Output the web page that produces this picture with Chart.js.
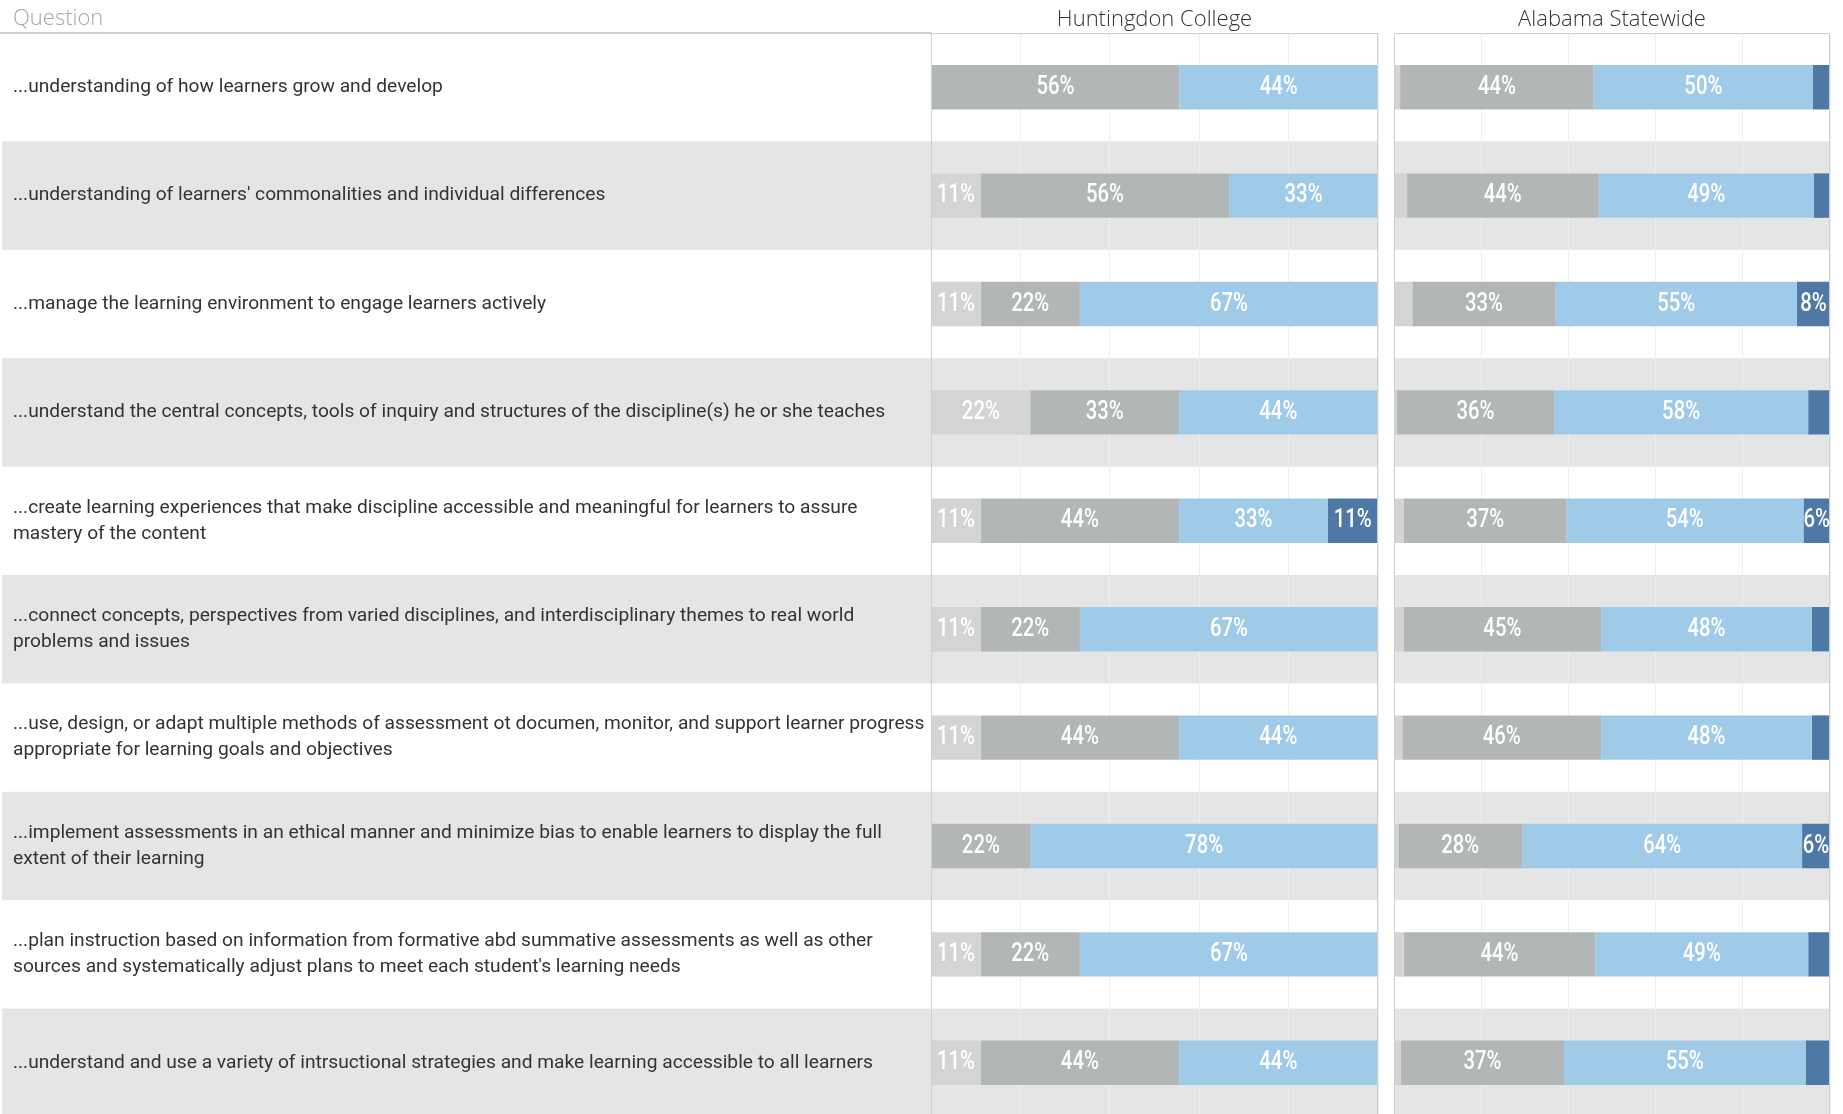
<!DOCTYPE html>
<html>
<head>
<meta charset="utf-8">
<script src="https://cdn.jsdelivr.net/npm/chart.js@4.4.1/dist/chart.umd.min.js"></script>
<style>
  html, body { margin: 0; padding: 0; background: #fff; overflow: hidden; }
  #wrap { position: relative; width: 1843px; height: 1114px; overflow: hidden; }
  #hcBox { position: absolute; left: 0; top: 0; width: 1379px; height: 1117px; }
  #alBox { position: absolute; left: 1393px; top: 0; width: 438px; height: 1117px; }
</style>
</head>
<body>
<div id="wrap">
  <div id="hcBox"><canvas id="hcChart" width="1379" height="1117"></canvas></div>
  <div id="alBox"><canvas id="alChart" width="438" height="1117"></canvas></div>
</div>
<script>
// questions (split in lines like the original)
const questions = [
  ["...understanding of how learners grow and develop"],
  ["...understanding of learners' commonalities and individual differences"],
  ["...manage the learning environment to engage learners actively"],
  ["...understand the central concepts, tools of inquiry and structures of the discipline(s) he or she teaches"],
  ["...create learning experiences that make discipline accessible and meaningful for learners to assure", "mastery of the content"],
  ["...connect concepts, perspectives from varied disciplines, and interdisciplinary themes to real world", "problems and issues"],
  ["...use, design, or adapt multiple methods of assessment ot documen, monitor, and support learner progress", "appropriate for learning goals and objectives"],
  ["...implement assessments in an ethical manner and minimize bias to enable learners to display the full", "extent of their learning"],
  ["...plan instruction based on information from formative abd summative assessments as well as other", "sources and systematically adjust plans to meet each student's learning needs"],
  ["...understand and use a variety of intrsuctional strategies and make learning accessible to all learners"]
];

const levels = ["Not well prepared", "Adequately prepared", "Well prepared", "Very well prepared"];
const levelColors = ["#d4d4d4", "#b2b6b7", "#a0cbe8", "#4e79a7"];
const xTicks = [0, 20, 40, 60, 80, 100];

// Huntingdon College (% of respondents)
const hcLevel1 = [0, 11.1, 11.1, 22.2, 11.1, 11.1, 11.1, 0, 11.1, 11.1];
const hcLevel2 = [55.6, 55.6, 22.2, 33.3, 44.4, 22.2, 44.4, 22.2, 22.2, 44.4];
const hcLevel3 = [44.4, 33.3, 66.7, 44.4, 33.3, 66.7, 44.4, 77.8, 66.7, 44.4];
const hcLevel4 = [0, 0, 0, 0, 11.1, 0, 0, 0, 0, 0];

// Alabama Statewide
const alLevel1 = [1.4, 3.0, 4.2, 0.7, 2.3, 2.2, 1.9, 1.0, 2.2, 1.6];
const alLevel2 = [44.4, 43.9, 32.9, 36.0, 37.2, 45.3, 45.6, 28.4, 44.0, 37.4];
const alLevel3 = [50.3, 49.4, 55.3, 58.3, 54.4, 48.3, 48.3, 64.2, 48.8, 55.4];
const alLevel4 = [3.9, 3.7, 7.6, 5.0, 6.1, 4.2, 4.2, 6.4, 5.0, 5.4];

// alternating grey bands behind the rows
const rowBands = {
  id: 'rowBands',
  beforeDraw(chart, args, opts) {
    const { ctx, chartArea } = chart;
    const y = chart.scales.y;
    const n = chart.data.labels.length;
    const h = (chartArea.bottom - chartArea.top) / n;
    const x0 = opts.left != null ? opts.left : chartArea.left;
    ctx.save();
    ctx.fillStyle = '#e5e5e5';
    for (let i = 1; i < n; i += 2) {
      const yc = y.getPixelForValue(i);
      ctx.fillRect(x0, yc - h / 2, chartArea.right - x0, h);
    }
    ctx.restore();
  }
};

// panel frame + header line
const frame = {
  id: 'frame',
  afterDatasetsDraw(chart, args, opts) {
    const { ctx, chartArea } = chart;
    ctx.save();
    ctx.strokeStyle = '#cfcfcf';
    ctx.lineWidth = 1;
    ctx.strokeRect(chartArea.left + 0.5, chartArea.top + 0.5, chartArea.right - chartArea.left - 1, chartArea.bottom - chartArea.top + 5);
    if (opts.header) {
      ctx.strokeStyle = '#d0d0d0';
      ctx.lineWidth = 2;
      ctx.beginPath();
      ctx.moveTo(0, chartArea.top);
      ctx.lineTo(chartArea.left, chartArea.top);
      ctx.stroke();
      ctx.fillStyle = '#a6a6a6';
      ctx.font = "300 22px 'Open Sans'";
      ctx.textBaseline = 'middle';
      ctx.fillText(opts.header, 13, 19);
    }
    ctx.restore();
  }
};

// percentage labels inside the segments (narrowed to look condensed)
const segLabels = {
  id: 'segLabels',
  afterDatasetsDraw(chart) {
    const { ctx } = chart;
    ctx.save();
    ctx.fillStyle = '#ffffff';
    ctx.font = "500 26px Roboto";
    ctx.textAlign = 'center';
    ctx.textBaseline = 'middle';
    chart.data.datasets.forEach((ds, di) => {
      chart.getDatasetMeta(di).data.forEach((bar, i) => {
        const v = ds.data[i];
        if (v < 5.5) return;
        ctx.save();
        ctx.translate((bar.x + bar.base) / 2, bar.y);
        ctx.scale(0.78, 1);
        ctx.fillText(Math.round(v) + '%', 0, 0);
        ctx.restore();
      });
    });
    ctx.restore();
  }
};

function makeDatasets(series) {
  return series.map((d, i) => ({
    label: levels[i],
    data: d,
    backgroundColor: levelColors[i],
    borderWidth: 0,
    barPercentage: 0.41,
    categoryPercentage: 1
  }));
}

function xScale(title) {
  return {
    position: 'top',
    stacked: true,
    min: 0,
    max: 100,
    afterBuildTicks: s => { s.ticks = xTicks.map(v => ({ value: v })); },
    ticks: { display: false },
    grid: { color: '#efefef', lineWidth: 1, drawTicks: false },
    border: { display: false },
    title: {
      display: true,
      text: title,
      color: '#333333',
      font: { family: 'Open Sans', size: 22, weight: 300, lineHeight: 1.2 },
      padding: { top: 6.5, bottom: 0 }
    },
    afterFit: s => { s.height = 33; }
  };
}

new Chart(document.getElementById('hcChart'), {
  type: 'bar',
  data: {
    labels: questions,
    datasets: makeDatasets([hcLevel1, hcLevel2, hcLevel3, hcLevel4])
  },
  options: {
    indexAxis: 'y',
    responsive: false,
    animation: false,
    layout: { autoPadding: false, padding: { left: 13, right: 1, top: 0, bottom: 0 } },
    plugins: {
      legend: { display: false },
      tooltip: { enabled: false },
      rowBands: { left: 2 },
      frame: { header: 'Question' }
    },
    scales: {
      x: xScale('Huntingdon College'),
      y: {
        stacked: true,
        grid: { display: false },
        border: { display: false },
        ticks: {
          crossAlign: 'far',
          color: '#333333',
          font: { family: 'Roboto', size: 19.2, lineHeight: 1.36 }
        },
        afterFit: s => {
          s.width = 918;
          s.paddingTop = 0;
          s.paddingBottom = 0;
        }
      }
    }
  },
  plugins: [rowBands, frame, segLabels]
});

new Chart(document.getElementById('alChart'), {
  type: 'bar',
  data: {
    labels: questions,
    datasets: makeDatasets([alLevel1, alLevel2, alLevel3, alLevel4])
  },
  options: {
    indexAxis: 'y',
    responsive: false,
    animation: false,
    layout: { autoPadding: false, padding: { left: 1, right: 1, top: 0, bottom: 0 } },
    plugins: {
      legend: { display: false },
      tooltip: { enabled: false },
      rowBands: {},
      frame: {}
    },
    scales: {
      x: xScale('Alabama Statewide'),
      y: { stacked: true, display: false }
    }
  },
  plugins: [rowBands, frame, segLabels]
});
</script>
</body>
</html>
